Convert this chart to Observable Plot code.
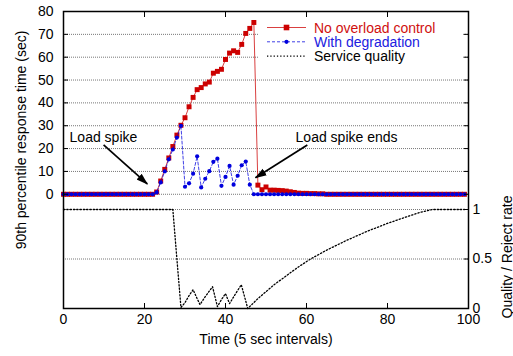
<!DOCTYPE html>
<html><head><meta charset="utf-8">
<script src="https://cdn.jsdelivr.net/npm/d3@7"></script>
<script src="https://cdn.jsdelivr.net/npm/@observablehq/plot@0.6"></script>
<style>
body{margin:0;background:#fff;}
#chart svg{font-family:"Liberation Sans",Arial,Helvetica,sans-serif;}
</style></head><body><div id="chart"></div>
<script>
// ---- data ----
const time = [0,1,2,3,4,5,6,7,8,9,10,11,12,13,14,15,16,17,18,19,20,21,22,23,24,25,26,27,28,29,30,31,32,33,34,35,36,37,38,39,40,41,42,43,44,45,46,47,48,49,50,51,52,53,54,55,56,57,58,59,60,61,62,63,64,65,66,67,68,69,70,71,72,73,74,75,76,77,78,79,80,81,82,83,84,85,86,87,88,89,90,91,92,93,94,95,96,97,98,99];
const noControl = [0,0,0,0,0,0,0,0,0,0,0,0,0,0,0,0,0,0,0,0,0,0,0,
  1,5.8,10.9,15.9,20.9,25.9,30.2,33.5,38.3,42.4,45.8,46.7,48.3,49.1,53,53.8,54.7,59,61.8,62.8,62.1,65.6,70.4,72.6,75.2,
  4,2,3.2,1.8,1.8,1.7,1.6,1.4,1.1,0.8,0.5,0.4,0.4,0.3,0.3,0.2,0.2,
  0,0,0,0,0,0,0,0,0,0,0,0,0,0,0,0,0,0,0,0,0,0,0,0,0,0,0,0,0,0,0,0,0,0,0];
const withDegradation = [0,0,0,0,0,0,0,0,0,0,0,0,0,0,0,0,0,0,0,0,0,0,0,
  0.8,5.2,10,15.3,19.6,24.8,30,3.3,4.8,9,16.6,3,6.8,10.1,14.2,15.6,3.7,7.6,12.4,4.2,8.1,12.7,14.3,4.2,
  0,0,0,0,0,0,0,0,0,0,0,0,0,0,0,0,0,0,0,0,0,0,0,0,0,0,0,0,0,0,0,0,0,0,0,0,0,0,0,0,0,0,0,0,0,0,0,0,0,0,0,0,0];
const qualityTime  = [0,27,28,29,30,31,32,33,33.7,35,36.8,38,39,40,41,42.5,43.9,45.5,48,50,52,55,58,61,65,70,75,80,85,88,91,99];
const qualityValue = [1,1,0.5,0.01,0.06,0.13,0.19,0.1,0.04,0.12,0.22,0.02,0.09,0.15,0.05,0.15,0.24,0,0.1,0.17,0.24,0.33,0.42,0.5,0.59,0.69,0.78,0.86,0.93,0.97,1,1];

const xTicks = [0,20,40,60,80,100];
const yTicks = [0,10,20,30,40,50,60,70,80];
const yGrid = [0,10,20,30,40,50,60,70];
const qTicks = [0,0.5,1];
const qGrid = [0.5,1];
const seriesNames = ["No overload control","With degradation","Service quality"];
const seriesColors = ["#cc0000","#0000dd","#000000"];
const annoText = ["Load spike","Load spike ends"];
const annoTextX = [1.5,57.3];
const annoTextY = [25,25];
const arrowFrom = [[9.9,21.6],[60.2,21.6]];
const arrowTo = [[20.7,4.5],[47.4,7.2]];

// ---- scales ----
const Y_LO = -50, Y_HI = 80, Q_MAX = 3;
const qToY = q => Y_LO + q * (Y_HI - Y_LO) / Q_MAX;
const yToQ = y => (y - Y_LO) * Q_MAX / (Y_HI - Y_LO);

const red = time.map((t,i)=>({t, v:noControl[i]}));
const blue = time.map((t,i)=>({t, v:withDegradation[i]}));
const quality = qualityTime.map((t,i)=>({t, q:qualityValue[i]}));
const notes = annoText.map((s,i)=>({s, x:annoTextX[i], y:annoTextY[i]}));
const arrows = arrowFrom.map((f,i)=>({x1:f[0], y1:f[1], x2:arrowTo[i][0], y2:arrowTo[i][1]}));

const gridStyle = {stroke:"#777", strokeDasharray:"1,1", strokeWidth:1};

const chart = Plot.plot({
  width:513, height:356,
  marginLeft:63, marginRight:45, marginTop:11, marginBottom:48,
  style:{fontFamily:"Liberation Sans, Arial, sans-serif", fontSize:"14px", background:"white", color:"black"},
  x:{domain:[0,100]},
  y:{domain:[Y_LO,Y_HI]},
  marks:[
    Plot.ruleY(yGrid, gridStyle),
    Plot.ruleY(qGrid.map(qToY), gridStyle),
    Plot.line(quality, {x:"t", y:d=>qToY(d.q), stroke:"#000", strokeWidth:1.3, strokeDasharray:"1.3,2"}),
    Plot.line(red, {x:"t", y:"v", stroke:seriesColors[0], strokeWidth:1, strokeOpacity:0.75}),
    Plot.dot(red, {x:"t", y:"v", symbol:"square", r:2.8, fill:seriesColors[0], stroke:"none"}),
    Plot.line(blue, {x:"t", y:"v", stroke:seriesColors[1], strokeWidth:1, strokeOpacity:0.75, strokeDasharray:"3,2"}),
    Plot.dot(blue, {x:"t", y:"v", r:2.1, fill:seriesColors[1], stroke:"none"}),
    Plot.link(arrows, {x1:"x1", y1:"y1", x2:"x2", y2:"y2", stroke:"black", strokeWidth:1.7}),
    Plot.text(notes, {x:"x", y:"y", text:"s", textAnchor:"start", fontSize:14, fill:"black"}),
    Plot.frame({stroke:"black", strokeWidth:1.5}),
    Plot.axisX({anchor:"bottom", ticks:xTicks, tickSize:-5, tickPadding:11, fontSize:14, label:null}),
    Plot.axisX({anchor:"top", ticks:xTicks, tickSize:-5, tickFormat:()=>"", label:null}),
    Plot.axisY({anchor:"left", ticks:yTicks, tickSize:-5, tickPadding:15, fontSize:14, label:null}),
    Plot.axisY({anchor:"right", ticks:yTicks, tickSize:-5, tickFormat:()=>"", label:null}),
    Plot.axisY({anchor:"right", ticks:qTicks.map(qToY), tickSize:-5, tickPadding:9, fontSize:14, tickFormat:d=>String(+yToQ(d).toFixed(2)), label:null}),
    Plot.text(["90th percentile response time (sec)"], {frameAnchor:"left", textAnchor:"middle", dx:-42, dy:-20, rotate:-90, fontSize:14, fill:"black"}),
    Plot.text(["Quality / Reject rate"], {frameAnchor:"right", textAnchor:"middle", dx:39, dy:97, rotate:-90, fontSize:14, fill:"black"}),
    Plot.text(["Time (5 sec intervals)"], {frameAnchor:"bottom", textAnchor:"middle", dy:35, fontSize:14, fill:"black"})
  ]
});
document.getElementById("chart").appendChild(chart);

// filled arrow heads
const svg = d3.select(chart);
svg.append("defs").append("marker")
  .attr("id","ahead").attr("viewBox","0 -5 12 10").attr("refX",11).attr("refY",0)
  .attr("markerWidth",12).attr("markerHeight",10).attr("markerUnits","userSpaceOnUse").attr("orient","auto")
  .append("path").attr("d","M0,-3.8L12,0L0,3.8Z").attr("fill","black");
svg.selectAll('g[aria-label="link"] path').attr("marker-end","url(#ahead)");

// legend (top right, inside the frame)
const lg = svg.append("g").attr("text-anchor","start");
lg.append("rect").attr("x",259).attr("y",18).attr("width",203).attr("height",46).attr("fill","white");
const dashes = [null,"3,2","1.3,2"];
seriesNames.forEach((name,i)=>{
  const y = 27.5 + i*14.3;
  lg.append("line").attr("x1",267).attr("x2",306).attr("y1",y).attr("y2",y)
    .attr("stroke",seriesColors[i]).attr("stroke-width",i===2?1.3:1).attr("stroke-opacity",i===2?1:0.75)
    .attr("stroke-dasharray",dashes[i]);
  if(i===0) lg.append("rect").attr("x",286.5-2.8).attr("y",y-2.8).attr("width",5.6).attr("height",5.6).attr("fill",seriesColors[0]);
  if(i===1) lg.append("circle").attr("cx",286.5).attr("cy",y).attr("r",2.1).attr("fill",seriesColors[1]);
  lg.append("text").attr("x",314).attr("y",y+5).attr("font-size",14).attr("text-anchor","start")
    .attr("fill",i===2?"#000":(i===0?"#d01010":"#2020e0")).text(name);
});
</script></body></html>
